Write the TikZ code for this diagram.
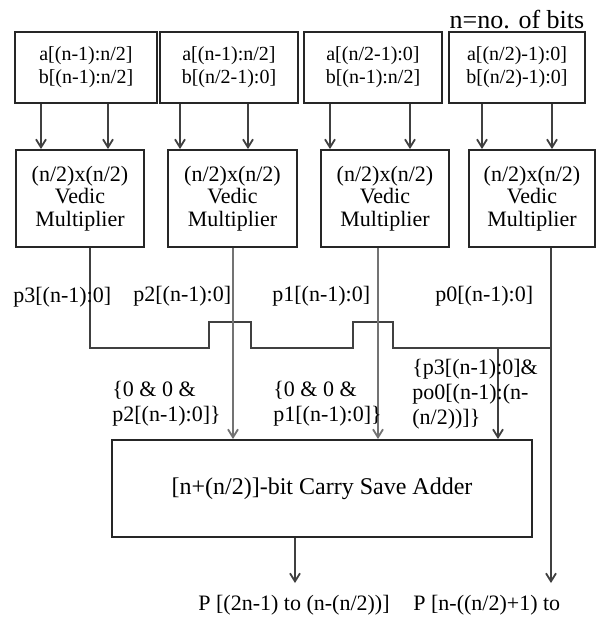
\documentclass[tikz,border=0pt]{standalone}
\usepackage{fontspec}
\setmainfont{Liberation Serif}
\usetikzlibrary{arrows.meta}
\begin{document}
\begin{tikzpicture}[x=0.5pt,y=-0.5pt,
  inbox/.style={draw=black!85,line width=1pt,minimum height=35.5pt,inner sep=0pt,align=center,font=\fontsize{10}{11.5}\selectfont},
  mulbox/.style={draw=black!85,line width=1pt,minimum height=48.5pt,minimum width=64pt,inner sep=0pt,align=center,font=\fontsize{11}{11.3}\selectfont},
  lbl/.style={inner sep=0pt,anchor=west,align=left,font=\fontsize{11}{12.5}\selectfont},
  wire/.style={draw=black!75,line width=0.9pt},
  arr/.style={wire,-{Straight Barb[length=4pt,width=5pt]}},
  garr/.style={arr,draw=black!55}]
\useasboundingbox (0,0) rectangle (597,618);
\fill[white] (0,0) rectangle (597,618);

% input boxes
\node[inbox,minimum width=71pt] (t1) at (86,67.5) {a[(n-1):n/2]\\b[(n-1):n/2]};
\node[inbox,minimum width=69pt] (t2) at (229,67.5) {a[(n-1):n/2]\\b[(n/2-1):0]};
\node[inbox,minimum width=69pt] (t3) at (373,67.5) {a[(n/2-1):0]\\b[(n-1):n/2]};
\node[inbox,minimum width=68pt] (t4) at (517,67.5) {a[(n/2)-1):0]\\b[(n/2)-1):0]};
\node[inner sep=0pt,font=\fontsize{13}{14}\selectfont] (nb) at (517,20) {n=no. of bits};

% multipliers
\node[mulbox] (m1) at (80,198.5) {(n/2)x(n/2)\\Vedic\\Multiplier};
\node[mulbox,minimum width=64.5pt] (m2) at (232.5,198.5) {(n/2)x(n/2)\\Vedic\\Multiplier};
\node[mulbox] (m3) at (385,198.5) {(n/2)x(n/2)\\Vedic\\Multiplier};
\node[mulbox,minimum width=63pt] (m4) at (532,198.5) {(n/2)x(n/2)\\Vedic\\Multiplier};

% carry save adder
\node[draw=black!85,line width=1pt,minimum width=210pt,minimum height=48.5pt,inner sep=0pt,font=\fontsize{12}{14}\selectfont] (csa) at (322,488.5) {[n+(n/2)]-bit Carry Save Adder};

% input arrows
\draw[arr] (t1.south -| 41,0) -- (m1.north -| 41,0);
\draw[arr] (t1.south -| 108,0) -- (m1.north -| 108,0);
\draw[arr] (t2.south -| 180,0) -- (m2.north -| 180,0);
\draw[arr] (t2.south -| 248,0) -- (m2.north -| 248,0);
\draw[arr] (t3.south -| 330,0) -- (m3.north -| 330,0);
\draw[arr] (t3.south -| 410,0) -- (m3.north -| 410,0);
\draw[arr] (t4.south -| 482,0) -- (m4.north -| 482,0);
\draw[arr] (t4.south -| 552,0) -- (m4.north -| 552,0);

% bus from multiplier 1 (p3)
\coordinate (j) at (551,348);
\coordinate (tap) at (498,348);
\draw[wire] (m1.south -| 90,0) -- (90,348) -- (209,348) -- (209,322) -- (251,322) -- (251,348)
  -- (353,348) -- (353,322) -- (393,322) -- (393,348) -- (j);

% multiplier outputs
\draw[garr] (m2.south -| 233,0) -- (csa.north -| 233,0);
\draw[garr] (m3.south -| 378,0) -- (csa.north -| 378,0);
\coordinate (o2) at (551,583);
\draw[arr] (m4.south -| 551,0) -- (o2);
\draw[arr] (tap) -- (csa.north -| tap);

% adder output
\coordinate (o1) at (295,583);
\draw[arr] (csa.south -| o1) -- (o1);

% labels
\node[lbl] (p3) at (13,297) {p3[(n-1):0]};
\node[lbl] (p2) at (133,296) {p2[(n-1):0]};
\node[lbl] (p1) at (272,296) {p1[(n-1):0]};
\node[lbl] (p0) at (435,296) {p0[(n-1):0]};
\node[lbl] (s2) at (112,404) {\{0 \& 0 \&\\p2[(n-1):0]\}};
\node[lbl] (s1) at (273,404) {\{0 \& 0 \&\\p1[(n-1):0]\}};
\node[lbl] (s0) at (412,394) {\{p3[(n-1):0]\&\\po0[(n-1):(n-\\(n/2))]\}};
\node[lbl] (r1) at (198,605) {P [(2n-1) to (n-(n/2))]};
\node[lbl] (r2) at (413,605) {P [n-((n/2)+1) to};
\end{tikzpicture}
\end{document}
